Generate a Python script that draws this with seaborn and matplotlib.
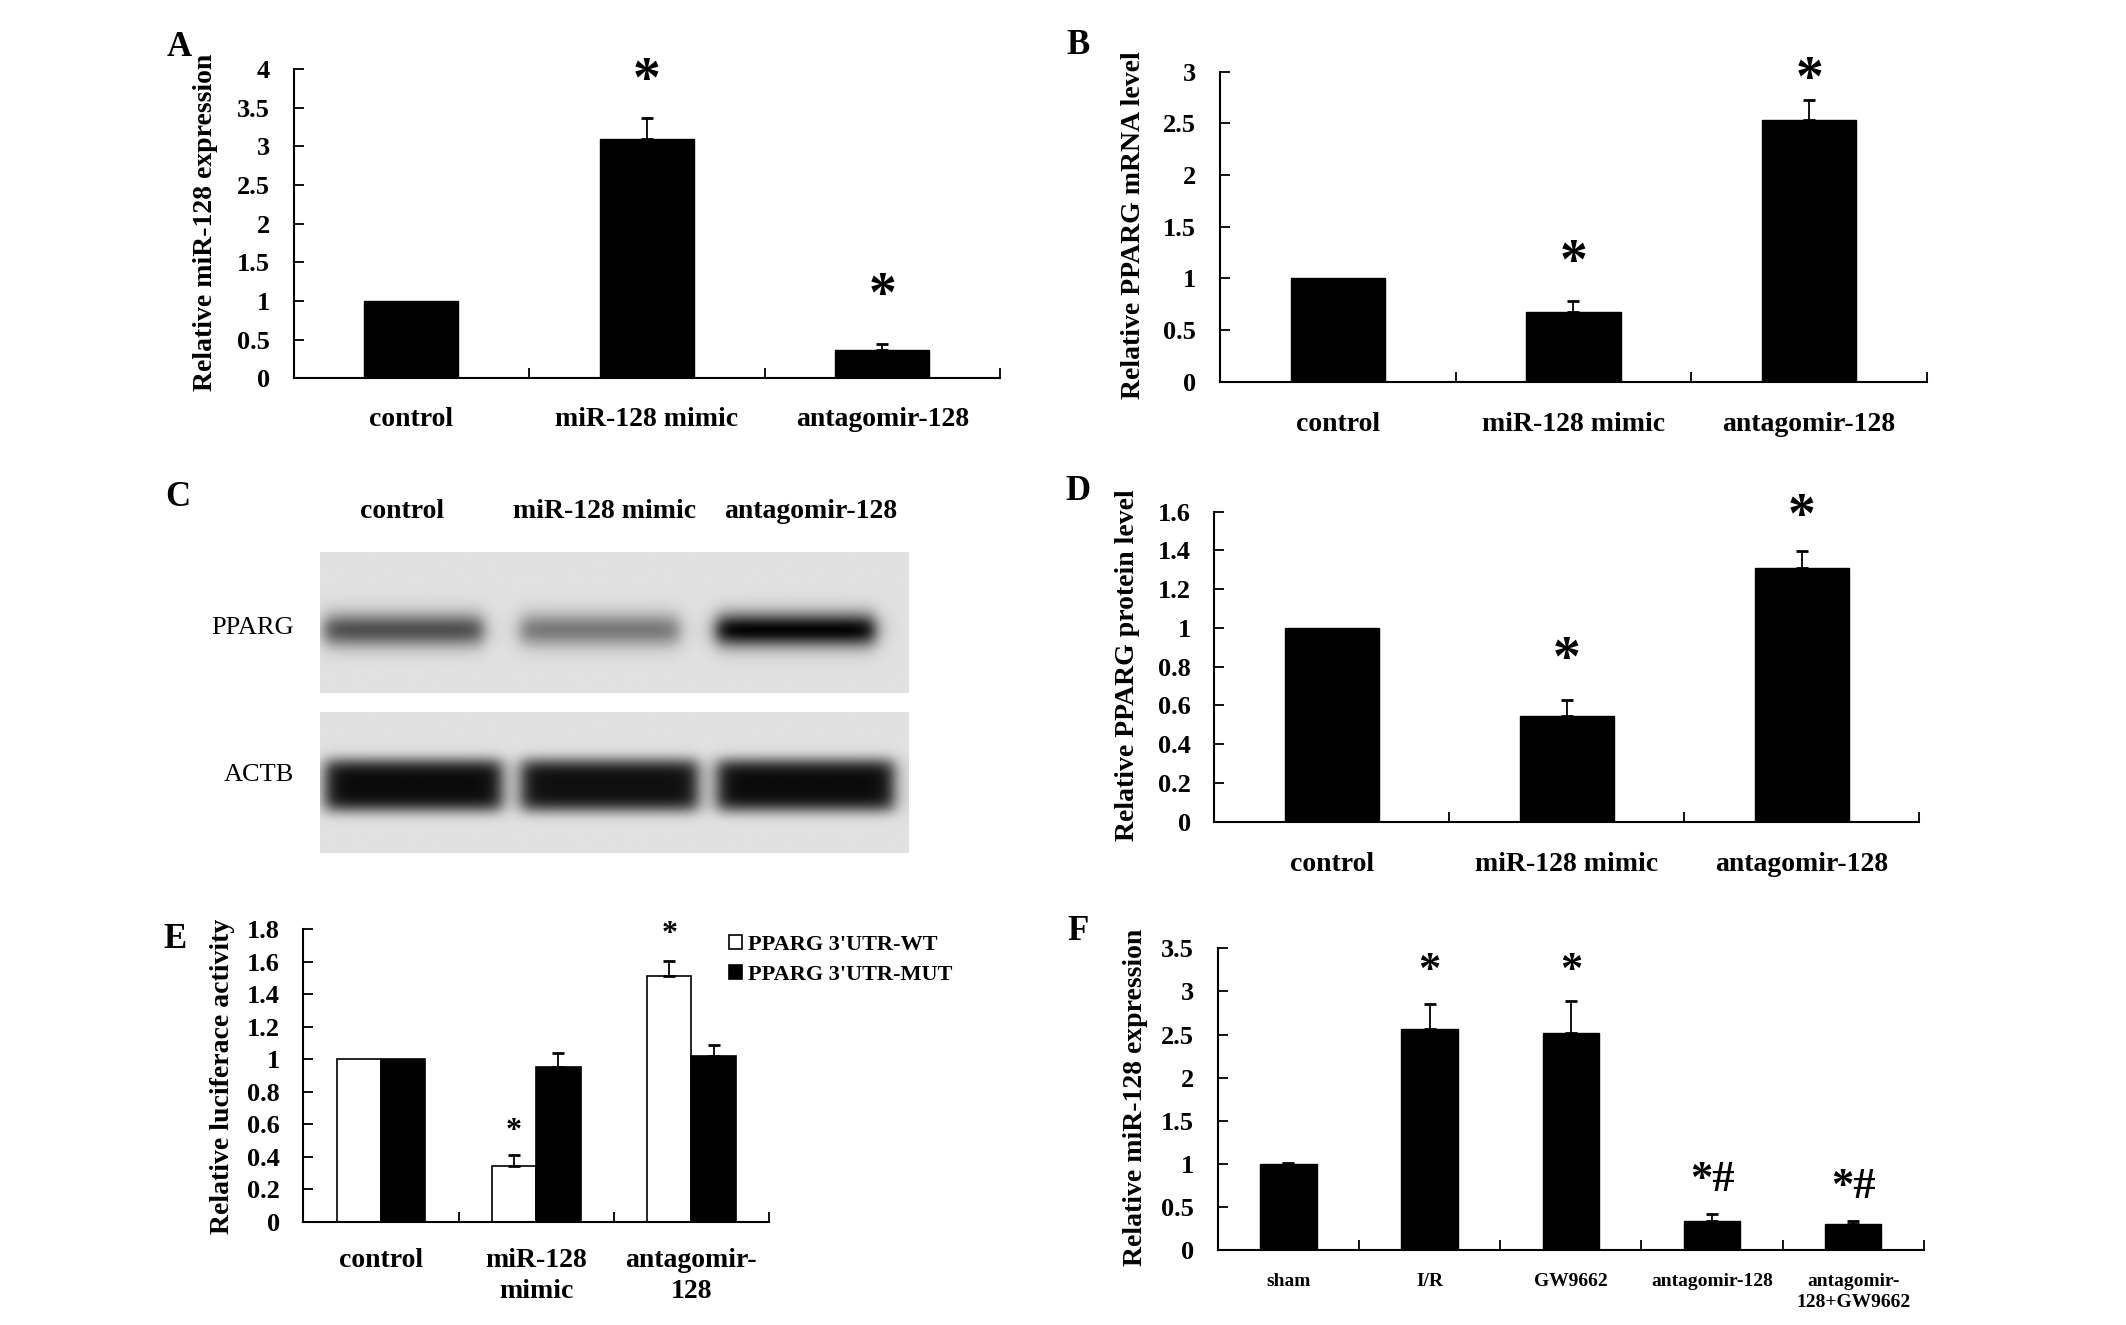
import numpy as np
import pandas as pd
import matplotlib
matplotlib.use("Agg")
import matplotlib.pyplot as plt
import matplotlib.ticker as ticker
import seaborn as sns

W, H = 2126, 1325

# A: miR-128 expression after mimic / antagomir
groups = ["control", "miR-128 mimic", "antagomir-128"]
a_mean = [1.0, 3.10, 0.36]
a_err = [0.0, 0.26, 0.09]
a_star = [None, 3.99, 1.21]

# B: PPARG mRNA
b_mean = [1.0, 0.67, 2.53]
b_err = [0.0, 0.11, 0.20]
b_star = [None, 1.26, 3.03]

# C: western blot, band darkness per lane
blot_rows = ["PPARG", "ACTB"]
pparg_band = [0.64, 0.46, 0.98]
actb_band = [0.95, 0.93, 0.95]

# D: PPARG protein
d_mean = [1.0, 0.547, 1.31]
d_err = [0.0, 0.081, 0.086]
d_star = [None, 0.895, 1.634]

# E: luciferase
e_groups = ["control", "miR-128\nmimic", "antagomir-\n128"]
e_series = ["PPARG 3'UTR-WT", "PPARG 3'UTR-MUT"]
e_wt = [1.0, 0.345, 1.515]
e_wt_err = [0.0, 0.065, 0.088]
e_mut = [1.0, 0.952, 1.022]
e_mut_err = [0.0, 0.087, 0.066]
e_star = [None, 0.605, 1.816]

# F: miR-128 in vivo
f_groups = ["sham", "I/R", "GW9662", "antagomir-128", "antagomir-\n128+GW9662"]
f_mean = [1.0, 2.56, 2.52, 0.336, 0.298]
f_err = [0.01, 0.29, 0.37, 0.078, 0.042]
f_mark = ["", "*", "*", "*#", "*#"]
f_mark_y = [None, 3.36, 3.36, 0.93, 0.85]


sns.set_theme(style="ticks", rc={
    "text.color": "black", "axes.labelcolor": "black", "axes.edgecolor": "black",
    "xtick.color": "black", "ytick.color": "black",
})
plt.rcParams["font.family"] = ["Liberation Serif", "DejaVu Serif"]
plt.rcParams["font.weight"] = "bold"
plt.rcParams["axes.labelweight"] = "bold"


def box(l, t, r, b):
    return [l / W, 1 - b / H, (r - l) / W, (b - t) / H]


def style_axis(ax, ymax, ystep, n, xsize=20, xpad=22):
    ax.set_ylim(0, ymax)
    ax.set_yticks(np.arange(0, ymax + ystep / 2, ystep))
    ax.yaxis.set_major_formatter(ticker.FuncFormatter(lambda v, p: "{:g}".format(round(v, 2))))
    ax.set_xlim(-0.5, n - 0.5)
    ax.set_xticks(np.arange(-0.5, n, 1), minor=True)
    ax.tick_params(axis="y", direction="in", length=7, width=1.3, pad=17, labelsize=19)
    ax.tick_params(axis="x", which="major", length=0, pad=xpad, labelsize=xsize)
    ax.tick_params(axis="x", which="minor", direction="in", length=7, width=1.3)
    ax.set_xlabel("")
    sns.despine(ax=ax)
    for s in ["left", "bottom"]:
        ax.spines[s].set_linewidth(1.5)


def set_ylab(ax, text, x, y, size=20):
    ax.set_ylabel(text, fontsize=size)
    ax.yaxis.set_label_coords(x / W, 1 - y / H, transform=fig.transFigure)
    ax.yaxis.label.set_va("center")


def add_errors(ax, bars, err):
    xs, ys, es = [], [], []
    for bar, e in zip(bars, err):
        if e > 0:
            xs.append(bar.get_x() + bar.get_width() / 2)
            ys.append(bar.get_height())
            es.append(e)
    ax.errorbar(xs, ys, yerr=[np.zeros(len(es)), es], fmt="none", ecolor="black",
                elinewidth=1.3, capsize=4, capthick=2)


def add_marks(ax, bars, marks, ys, size):
    for bar, m, y in zip(bars, marks, ys):
        if y is None:
            continue
        ax.annotate(m, (bar.get_x() + bar.get_width() / 2, y), xytext=(0, -0.48 * size),
                    textcoords="offset points", ha="center", va="baseline",
                    fontsize=size, annotation_clip=False)


def simple_bars(ax, cats, mean, err):
    sns.barplot(x=cats, y=mean, color="black", edgecolor="black", width=0.4,
                saturation=1, errorbar=None, ax=ax)
    bars = ax.containers[0]
    add_errors(ax, bars, err)
    return bars


def blot_image(darkness, yc, sig, power, hw, shift, nx=600, ny=144):
    xs = np.linspace(0, 3, nx)
    ys = np.linspace(0, 1, ny)
    bg = 0.88
    img = np.full((ny, nx), bg)
    py = np.exp(-np.abs((ys - yc) / sig) ** power)
    for i, d in enumerate(darkness):
        c = i + 0.5 + shift
        px = 0.5 * (np.tanh((xs - c + hw) / 0.05) - np.tanh((xs - c - hw) / 0.05))
        img -= d * bg * np.outer(py, px)
    return np.clip(img, 0, 1)


fig = plt.figure(figsize=(W / 100, H / 100), dpi=100)

# ---- A
axA = fig.add_axes(box(293.6, 69, 1000, 378.3))
bars = simple_bars(axA, groups, a_mean, a_err)
add_marks(axA, bars, ["*"] * 3, a_star, 40)
style_axis(axA, 4, 0.5, 3, xpad=21)
set_ylab(axA, "Relative miR-128 expression", 205, 222)

# ---- B
axB = fig.add_axes(box(1219.8, 71.7, 1927, 381.7))
bars = simple_bars(axB, groups, b_mean, b_err)
add_marks(axB, bars, ["*"] * 3, b_star, 40)
style_axis(axB, 3, 0.5, 3, xpad=22)
set_ylab(axB, "Relative PPARG mRNA level", 1133, 225)

# ---- C
ppa = fig.add_axes(box(320, 552, 909, 693))
ppa.imshow(blot_image(pparg_band, 0.553, 0.12, 2, 0.405, -0.075), cmap="gray",
           vmin=0, vmax=1, extent=[0, 3, 1, 0], aspect="auto", interpolation="bilinear")
ppa.set_xticks([0.42, 1.45, 2.5])
ppa.set_xticklabels(groups)
ppa.xaxis.tick_top()
ppa.tick_params(axis="x", length=0, pad=20, labelsize=20)
ppa.set_yticks([0.52])
ppa.set_yticklabels([blot_rows[0]], fontweight="normal")
ppa.tick_params(axis="y", length=0, pad=19, labelsize=19)
for s in ppa.spines.values():
    s.set_visible(False)

act = fig.add_axes(box(320, 712, 909, 853))
act.imshow(blot_image(actb_band, 0.52, 0.19, 4, 0.45, -0.025), cmap="gray",
           vmin=0, vmax=1, extent=[0, 3, 1, 0], aspect="auto", interpolation="bilinear")
act.set_xticks([])
act.set_yticks([0.43])
act.set_yticklabels([blot_rows[1]], fontweight="normal")
act.tick_params(axis="y", length=0, pad=19, labelsize=19)
for s in act.spines.values():
    s.set_visible(False)

# ---- D
axD = fig.add_axes(box(1214.4, 511.7, 1919, 821.7))
bars = simple_bars(axD, groups, d_mean, d_err)
add_marks(axD, bars, ["*"] * 3, d_star, 40)
style_axis(axD, 1.6, 0.2, 3, xpad=22)
set_ylab(axD, "Relative PPARG protein level", 1127, 665)

# ---- E
axE = fig.add_axes(box(303.4, 929.3, 769, 1221.7))
df_e = pd.DataFrame({
    "group": e_groups * 2,
    "series": [e_series[0]] * 3 + [e_series[1]] * 3,
    "value": e_wt + e_mut,
})
sns.barplot(data=df_e, x="group", y="value", hue="series", hue_order=e_series,
            palette=["white", "black"], edgecolor="black", linewidth=1.2,
            width=0.571, gap=0, saturation=1, errorbar=None, ax=axE)
add_errors(axE, axE.containers[0], e_wt_err)
add_errors(axE, axE.containers[1], e_mut_err)
add_marks(axE, axE.containers[0], ["*"] * 3, e_star, 23)
style_axis(axE, 1.8, 0.2, 3, xpad=19)
for lbl in axE.get_xticklabels():
    lbl.set_linespacing(1.3)
handles, labels = axE.get_legend_handles_labels()
axE.legend(handles, labels, loc="upper left", bbox_to_anchor=(729 / W, 1 - 935 / H),
           bbox_transform=fig.transFigure, frameon=False, fontsize=16,
           handlelength=0.6, handleheight=0.6, handletextpad=0.25,
           labelspacing=0.45, borderpad=0, borderaxespad=0)
axE.set_ylabel("")
set_ylab(axE, "Relative luciferace activity", 222, 1076)

# ---- F
axF = fig.add_axes(box(1217.8, 948.3, 1923.8, 1250))
bars = simple_bars(axF, f_groups, f_mean, f_err)
add_marks(axF, bars, f_mark, f_mark_y, 32)
style_axis(axF, 3.5, 0.5, 5, xsize=14, xpad=16.5)
for lbl in axF.get_xticklabels():
    lbl.set_linespacing(1.3)
set_ylab(axF, "Relative miR-128 expression", 1135, 1097)

# panel letters
for letter, x, y in [("A", 179, 47), ("B", 1078, 46), ("C", 178, 498),
                     ("D", 1078, 492), ("E", 175, 939), ("F", 1078, 932)]:
    fig.text(x / W, 1 - y / H, letter, ha="center", va="center", fontsize=25)

fig.savefig("out.png", dpi=100)
